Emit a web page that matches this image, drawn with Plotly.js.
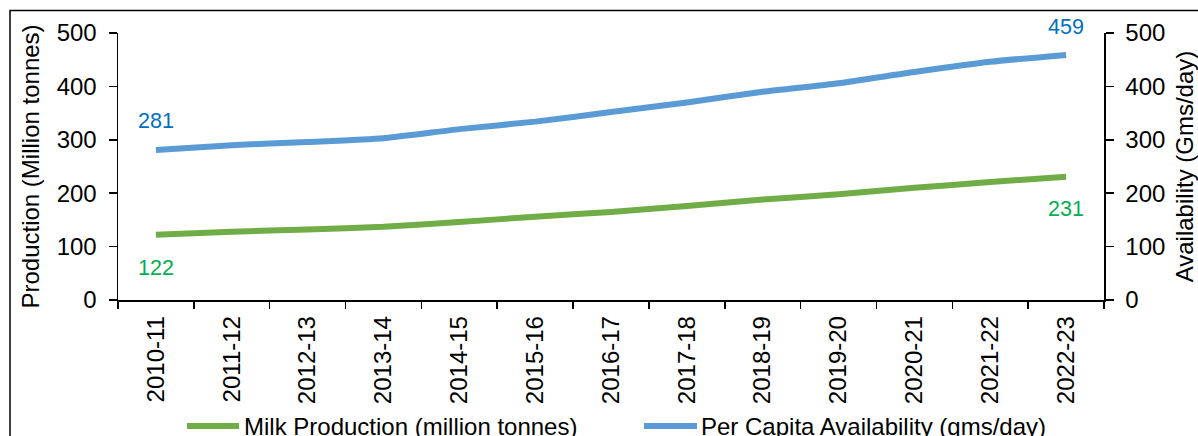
<!DOCTYPE html>
<html>
<head>
<meta charset="utf-8">
<script src="https://cdn.plot.ly/plotly-3.0.1.min.js"></script>
<style>html,body{margin:0;padding:0;background:#fff;}#chart{width:1198px;height:436px;}</style>
</head>
<body>
<div id="chart"></div>
<script>
const years = ["2010-11","2011-12","2012-13","2013-14","2014-15","2015-16","2016-17","2017-18","2018-19","2019-20","2020-21","2021-22","2022-23"];
const milkProduction = [122,128,132,137,146,156,165,176,188,198,210,221,231];
const perCapita = [281,290,296,303,320,334,352,370,390,406,427,446,459];
const seriesNames = ["Milk Production (million tonnes)", "Per Capita Availability (gms/day)"];
const leftTitle = "Production (Million tonnes)";
const rightTitle = "Availability (Gms/day)";
const yTicks = [0,100,200,300,400,500];

const FONT = "Liberation Sans, Arial, sans-serif";
const GREEN = "#70AD47", BLUE = "#5B9BD5";
const GREEN_LBL = "#00B050", BLUE_LBL = "#0070C0";
const FS = 24;
const LFS = 21.5;

// plot area pixels: x 118..1104, y 33..300
const L = 118, R = 1104, T = 33, B = 300;
const px = v => (v - L) / (R - L);
const py = v => (B - v) / (B - T);

const traces = [
  {x: years, y: milkProduction, name: seriesNames[0], type: "scatter", mode: "lines",
   line: {color: GREEN, width: 6, shape: "spline", smoothing: 0.6}, yaxis: "y", hoverinfo: "skip"},
  {x: years, y: perCapita, name: seriesNames[1], type: "scatter", mode: "lines",
   line: {color: BLUE, width: 6, shape: "spline", smoothing: 0.6}, yaxis: "y2", hoverinfo: "skip"}
];

const last = years.length - 1;
const annotations = [
  {x: years[0], y: milkProduction[0], xref: "x", yref: "y", text: String(milkProduction[0]), showarrow: false, yshift: -33, font: {family: FONT, size: LFS, color: GREEN_LBL}},
  {x: years[last], y: milkProduction[last], xref: "x", yref: "y", text: String(milkProduction[last]), showarrow: false, yshift: -32, font: {family: FONT, size: LFS, color: GREEN_LBL}},
  {x: years[0], y: perCapita[0], xref: "x", yref: "y2", text: String(perCapita[0]), showarrow: false, yshift: 29, font: {family: FONT, size: LFS, color: BLUE_LBL}},
  {x: years[last], y: perCapita[last], xref: "x", yref: "y2", text: String(perCapita[last]), showarrow: false, yshift: 28, font: {family: FONT, size: LFS, color: BLUE_LBL}},
  // manual legend texts
  {x: px(242), y: py(426), xref: "paper", yref: "paper", xanchor: "left", yanchor: "middle", text: seriesNames[0], showarrow: false, font: {family: FONT, size: FS, color: "#000"}},
  {x: px(699), y: py(426), xref: "paper", yref: "paper", xanchor: "left", yanchor: "middle", text: seriesNames[1], showarrow: false, font: {family: FONT, size: FS, color: "#000"}}
];

const shapes = [
  {type: "rect", xref: "paper", yref: "paper", x0: px(10), x1: px(1260), y0: py(500), y1: py(10.5), line: {color: "#000", width: 1.5}, fillcolor: "rgba(0,0,0,0)", layer: "below"},
  {type: "line", xref: "paper", yref: "paper", x0: px(187), x1: px(239), y0: py(426), y1: py(426), line: {color: GREEN, width: 6}},
  {type: "line", xref: "paper", yref: "paper", x0: px(644), x1: px(697), y0: py(426), y1: py(426), line: {color: BLUE, width: 6}}
];

const axisCommon = {
  range: [0, 500], tickvals: yTicks, showgrid: false, zeroline: false,
  showline: true, linecolor: "#000", linewidth: 1.5,
  ticks: "outside", ticklen: 8, tickwidth: 1.5, tickcolor: "#000", ticklabelstandoff: 7,
  tickfont: {family: FONT, size: FS, color: "#000"}, fixedrange: true
};

const layout = {
  width: 1198, height: 436,
  margin: {l: L, r: 1198 - R, t: T, b: 436 - B, pad: 0},
  paper_bgcolor: "#fff", plot_bgcolor: "#fff",
  showlegend: false,
  font: {family: FONT, color: "#000"},
  xaxis: {
    type: "category", range: [-0.5, years.length - 0.5], tickangle: -90,
    tickson: "boundaries", ticks: "outside", ticklen: 7, tickwidth: 1.5, tickcolor: "#000", ticklabelstandoff: 5,
    showline: true, linecolor: "#000", linewidth: 1.5, showgrid: false, zeroline: false,
    tickfont: {family: FONT, size: FS, color: "#000"}, automargin: false, fixedrange: true
  },
  yaxis: Object.assign({}, axisCommon, {
    side: "left", automargin: false,
    title: {text: leftTitle, font: {family: FONT, size: FS, color: "#000"}, standoff: 10}
  }),
  yaxis2: Object.assign({}, axisCommon, {
    side: "right", overlaying: "y", anchor: "x", automargin: false,
    title: {text: rightTitle, font: {family: FONT, size: FS, color: "#000"}, standoff: 20}
  }),
  annotations: annotations,
  shapes: shapes
};

Plotly.newPlot("chart", traces, layout, {displayModeBar: false, staticPlot: true});
</script>
</body>
</html>
